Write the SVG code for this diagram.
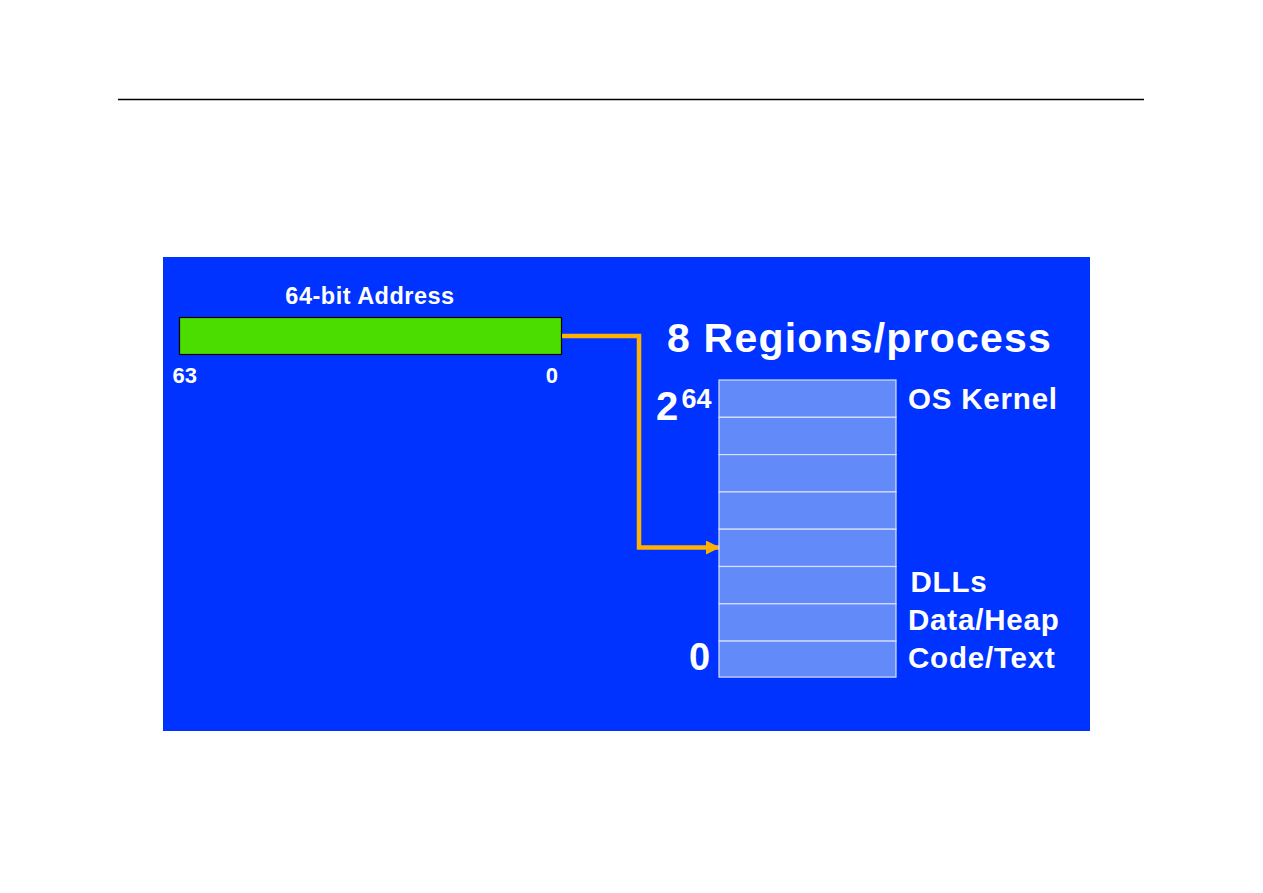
<svg xmlns="http://www.w3.org/2000/svg" width="1263" height="893" viewBox="0 0 1263 893">
<defs>
<style>
.t{font-family:"Liberation Sans",Arial,sans-serif;font-weight:bold;fill:#ffffff}
.lbl{font-size:29.5px;letter-spacing:0.8px}
.row{fill:#628af8;stroke:#d6e0ff;stroke-width:1.2}
.conn{fill:none;stroke:#ffb000;stroke-width:4.5}
</style>
<marker id="ah" markerWidth="14" markerHeight="14" viewBox="0 0 14 14" refX="13" refY="7" orient="auto" markerUnits="userSpaceOnUse">
<path d="M0,0 L14,7 L0,14 Z" fill="#ffb000"/>
</marker>
</defs>
<rect width="1263" height="893" fill="#ffffff"/>
<line x1="118" y1="99.5" x2="1144" y2="99.5" stroke="#000000" stroke-width="1.3"/>
<rect id="panel" x="163" y="257" width="927" height="474" fill="#0033ff"/>
<g id="address">
<rect x="179.5" y="317.5" width="382" height="37" fill="#4cdd00" stroke="#000000" stroke-width="1.2"/>
<text class="t" x="370" y="304" font-size="23.5" letter-spacing="0.5" text-anchor="middle">64-bit Address</text>
<text class="t" x="172.5" y="383" font-size="22">63</text>
<text class="t" x="558" y="383" font-size="22" text-anchor="end">0</text>
</g>
<g id="connectors">
<path class="conn" d="M562,336 H639 V547.5 H719" marker-end="url(#ah)"/>
</g>
<text id="title" class="t" x="667" y="352" font-size="41" letter-spacing="1.2">8 Regions/process</text>
<g id="regions">
<rect class="row" x="719" y="380" width="177" height="37.3"/>
<rect class="row" x="719" y="417.3" width="177" height="37.3"/>
<rect class="row" x="719" y="454.6" width="177" height="37.3"/>
<rect class="row" x="719" y="491.9" width="177" height="37.3"/>
<rect class="row" x="719" y="529.2" width="177" height="37.3"/>
<rect class="row" x="719" y="566.5" width="177" height="37.3"/>
<rect class="row" x="719" y="603.8" width="177" height="37.3"/>
<rect class="row" x="719" y="641.1" width="177" height="36"/>
</g>
<g id="labels">
<text class="t" x="656" y="420" font-size="40">2</text>
<text class="t" x="681.5" y="408" font-size="27">64</text>
<text class="t" x="689" y="670" font-size="38">0</text>
<text class="t lbl" x="908" y="409">OS Kernel</text>
<text class="t lbl" x="910.5" y="592">DLLs</text>
<text class="t lbl" x="908" y="630">Data/Heap</text>
<text class="t lbl" x="908" y="668">Code/Text</text>
</g>
</svg>
